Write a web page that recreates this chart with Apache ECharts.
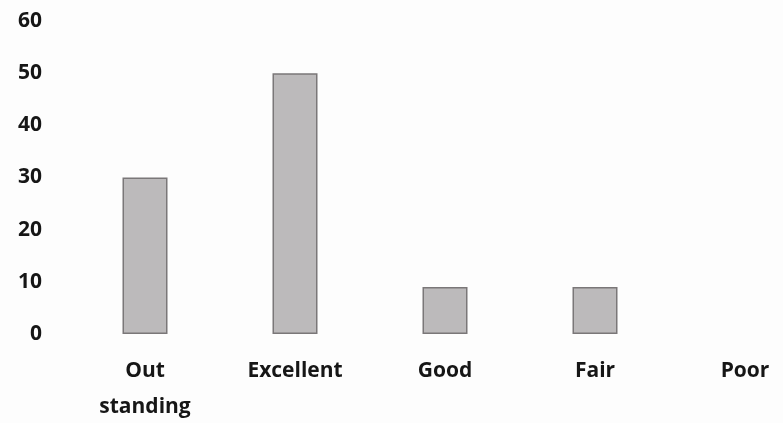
<!DOCTYPE html>
<html>
<head>
<meta charset="utf-8">
<script src="https://cdn.jsdelivr.net/npm/echarts@6/dist/echarts.min.js"></script>
<style>
  html, body { margin: 0; padding: 0; background: #fdfdfd; }
  #chart { width: 783px; height: 423px; }
</style>
</head>
<body>
<div id="chart"></div>
<script>
// 評価カテゴリと件数
const categories = ['Out\nstanding', 'Excellent', 'Good', 'Fair', 'Poor'];
const counts = [30, 50, 9, 9, 0];
const yTicks = [0, 10, 20, 30, 40, 50, 60];

const textColor = '#161616';
const labelFont = { fontFamily: 'Open Sans', fontSize: 21, fontWeight: 'bold', color: textColor };

const myChart = echarts.init(document.getElementById('chart'));

myChart.setOption({
  animation: false,
  backgroundColor: '#fdfdfd',
  grid: {
    left: 70,
    right: -37,
    top: 21,
    bottom: 89,
    outerBoundsMode: 'none',
  },
  xAxis: {
    type: 'category',
    data: categories,
    axisLine: { show: false },
    axisTick: { show: false },
    splitLine: { show: false },
    axisLabel: {
      ...labelFont,
      margin: 19,
      lineHeight: 36,
      interval: 0,
    },
  },
  yAxis: {
    type: 'value',
    min: yTicks[0],
    max: yTicks[yTicks.length - 1],
    interval: 10,
    axisLine: { show: false },
    axisTick: { show: false },
    splitLine: { show: false },
    axisLabel: {
      ...labelFont,
      margin: 28,
    },
  },
  series: [
    {
      type: 'bar',
      // 0件のバーは枠線も描かない
      data: counts.map((v) => (v === 0 ? { value: v, itemStyle: { borderWidth: 0 } } : v)),
      barWidth: '30%',
      itemStyle: {
        color: '#bcbabb',
        borderColor: '#7a7778',
        borderWidth: 1.5,
      },
    },
  ],
});
</script>
</body>
</html>
